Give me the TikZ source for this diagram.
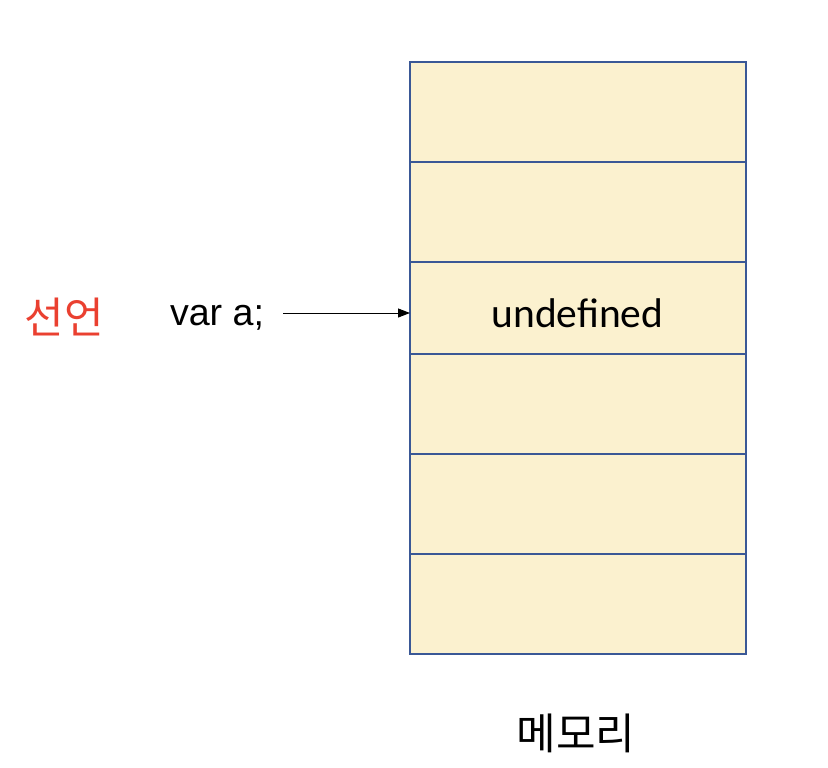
\documentclass[tikz,border=0pt]{standalone}
\usepackage{fontspec}
\setmainfont{Carlito}
\newfontfamily\arialf{Liberation Sans}
\newfontfamily\kr{Noto Sans CJK KR}
\usetikzlibrary{arrows.meta}
\definecolor{cellfill}{RGB}{251,241,207}
\definecolor{cellline}{RGB}{58,88,150}
\definecolor{krred}{RGB}{234,64,48}
\begin{document}
\begin{tikzpicture}[x=1pt,y=-1pt,
  cell/.style={draw=cellline,fill=cellfill,line width=2pt,minimum width=336pt,inner sep=0pt,anchor=north west,outer sep=0pt},
  lbl/.style={inner sep=0pt,outer sep=0pt}]
\useasboundingbox (0,0) rectangle (828,768);
\node[cell,minimum height=100pt] (c1) at (410,62) {};
\node[cell,minimum height=100pt] (c2) at (410,162) {};
\node[cell,minimum height=92pt] (c3) at (410,262) {};
\node[cell,minimum height=100pt] (c4) at (410,354) {};
\node[cell,minimum height=100pt] (c5) at (410,454) {};
\node[cell,minimum height=100pt] (c6) at (410,554) {};
\node[lbl,anchor=base,font=\fontsize{41.5}{44}\selectfont] (u) at (577.5,327) {undefined};
\node[lbl,anchor=base west,font=\arialf\fontsize{37.6}{40}\selectfont] (v) at (170,325) {var a;};
\node[lbl,font=\kr\fontsize{43}{46}\selectfont,text=krred] (s) at (64,317) {선언};
\node[lbl,font=\kr\fontsize{43}{46}\selectfont] (m) at (576,733) {메모리};
\coordinate (as) at (283,313);
\draw[line width=1pt,-{Triangle[length=12pt,width=9pt]}] (as) -- (c3.west |- as);
\end{tikzpicture}
\end{document}
